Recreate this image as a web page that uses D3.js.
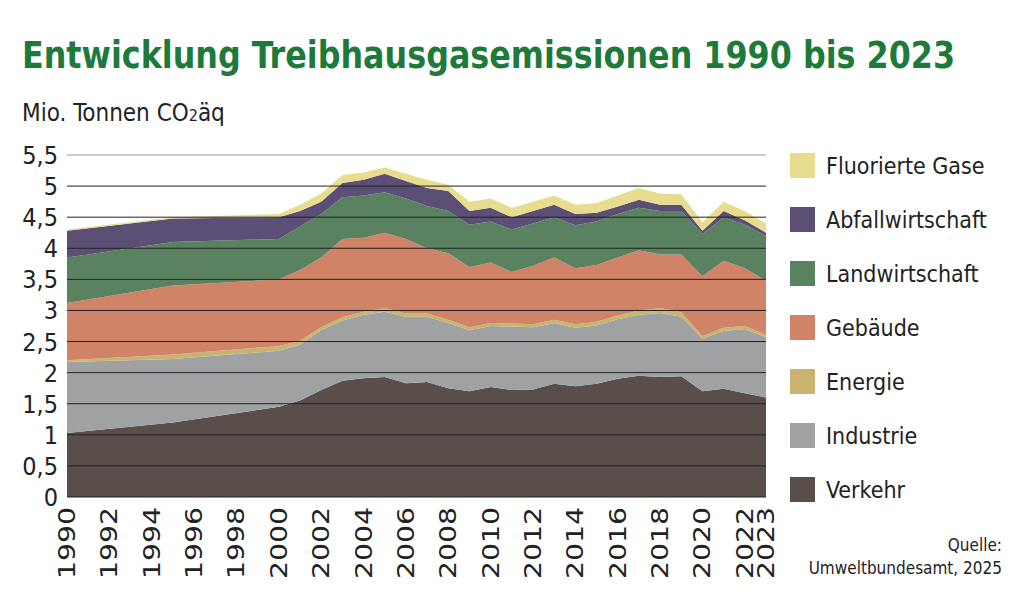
<!DOCTYPE html>
<html>
<head>
<meta charset="utf-8">
<script src="https://cdnjs.cloudflare.com/ajax/libs/d3/7.8.5/d3.min.js"></script>
<style>
  body { margin: 0; background: #fff; }
  text { font-family: "DejaVu Sans Condensed", "DejaVu Sans", sans-serif; }
</style>
</head>
<body>
<svg id="chart" width="1024" height="609"></svg>
<script>
// data (Mio. t CO2-Äq.)
var years = [1990,1995,2000,2001,2002,2003,2004,2005,2006,2007,2008,2009,2010,2011,2012,2013,2014,2015,2016,2017,2018,2019,2020,2021,2022,2023];
var verkehr = [1.03,1.2,1.45,1.55,1.72,1.87,1.91,1.93,1.83,1.85,1.75,1.7,1.77,1.72,1.73,1.82,1.78,1.82,1.9,1.95,1.93,1.94,1.7,1.74,1.67,1.6];
var industrie = [1.14,1.02,0.90,0.90,0.96,0.97,1.02,1.05,1.07,1.05,1.05,0.98,0.98,1.02,1.00,0.98,0.94,0.94,0.96,0.98,1.03,0.96,0.85,0.93,1.03,0.97];
var energie = [0.03,0.07,0.08,0.06,0.05,0.05,0.05,0.06,0.05,0.05,0.05,0.05,0.05,0.05,0.05,0.05,0.06,0.06,0.06,0.07,0.08,0.07,0.04,0.05,0.05,0.04];
var gebaeude = [0.92,1.11,1.07,1.14,1.12,1.26,1.19,1.21,1.20,1.05,1.07,0.97,0.97,0.83,0.94,1.00,0.90,0.91,0.93,0.97,0.86,0.93,0.96,1.08,0.93,0.87];
var landwirtschaft = [0.73,0.70,0.65,0.70,0.70,0.67,0.68,0.65,0.65,0.68,0.68,0.68,0.66,0.68,0.68,0.65,0.69,0.70,0.70,0.68,0.70,0.70,0.68,0.70,0.70,0.72];
var abfall = [0.43,0.38,0.35,0.25,0.20,0.23,0.25,0.30,0.28,0.29,0.32,0.22,0.22,0.20,0.20,0.20,0.18,0.14,0.12,0.13,0.10,0.10,0.05,0.10,0.07,0.05];
var fluor = [0.02,0.02,0.05,0.10,0.13,0.13,0.12,0.10,0.12,0.13,0.10,0.15,0.15,0.15,0.15,0.15,0.15,0.16,0.18,0.19,0.18,0.17,0.14,0.15,0.15,0.15];

var seriesNames = ["Verkehr","Industrie","Energie","Gebäude","Landwirtschaft","Abfallwirtschaft","Fluorierte Gase"];
var seriesValues = [verkehr, industrie, energie, gebaeude, landwirtschaft, abfall, fluor];
var colors = ["#5a4e4a","#a0a1a3","#c8b46e","#d08366","#5a8160","#5b4f76","#e8dd8f"];
var yTicks = [0,0.5,1,1.5,2,2.5,3,3.5,4,4.5,5,5.5];
var xTicks = [1990,1992,1994,1996,1998,2000,2002,2004,2006,2008,2010,2012,2014,2016,2018,2020,2022,2023];

var svg = d3.select("#chart");
var x = d3.scaleLinear().domain([1990, 2023]).range([67, 766]);
var y = d3.scaleLinear().domain([0, 5.5]).range([497, 155]);

var rows = years.map(function(yr, i) {
  var r = { year: yr };
  seriesNames.forEach(function(n, k) { r[n] = seriesValues[k][i]; });
  return r;
});
var stack = d3.stack().keys(seriesNames)(rows);

var area = d3.area()
  .x(function(d) { return x(d.data.year); })
  .y0(function(d) { return y(d[0]); })
  .y1(function(d) { return y(d[1]); });

svg.selectAll("path.layer").data(stack).enter().append("path")
  .attr("class", "layer")
  .attr("d", area)
  .attr("fill", function(d, i) { return colors[i]; });

// grid lines over the areas
svg.selectAll("line.grid").data(yTicks).enter().append("line")
  .attr("x1", 67).attr("x2", 766)
  .attr("y1", function(d) { return y(d); }).attr("y2", function(d) { return y(d); })
  .attr("stroke", function(d) { return d === 5.5 ? "#999" : "#222"; })
  .attr("stroke-width", 1);

// y labels
svg.selectAll("text.ytick").data(yTicks).enter().append("text")
  .attr("x", 58).attr("y", function(d) { return y(d) + 9; })
  .attr("text-anchor", "end").attr("font-size", 25).attr("fill", "#222")
  .text(function(d) { return String(d).replace(".", ","); });

// x labels
svg.selectAll("text.xtick").data(xTicks).enter().append("text")
  .attr("transform", function(d) { return "translate(" + (x(d) + 8) + ",507) rotate(-90)"; })
  .attr("text-anchor", "end").attr("font-size", 23).attr("fill", "#222")
  .attr("textLength", 72).attr("lengthAdjust", "spacingAndGlyphs")
  .text(function(d) { return d; });

// title
svg.append("text").attr("x", 22).attr("y", 68)
  .attr("font-size", 37).attr("font-weight", "bold").attr("fill", "#1e7a3a")
  .attr("textLength", 933).attr("lengthAdjust", "spacingAndGlyphs")
  .text("Entwicklung Treibhausgasemissionen 1990 bis 2023");

var unit = svg.append("text").attr("x", 22).attr("y", 121).attr("font-size", 24).attr("fill", "#222");
unit.append("tspan").text("Mio. Tonnen CO");
unit.append("tspan").attr("font-size", 16).text("2");
unit.append("tspan").text("äq");

// legend (top to bottom reversed)
var legendItems = seriesNames.map(function(n, i) { return { name: n, color: colors[i] }; }).reverse();
var lg = svg.selectAll("g.legend").data(legendItems).enter().append("g")
  .attr("transform", function(d, i) { return "translate(790," + (153 + i * 54) + ")"; });
lg.append("rect").attr("width", 25).attr("height", 25).attr("fill", function(d) { return d.color; });
lg.append("text").attr("x", 36).attr("y", 21).attr("font-size", 23).attr("fill", "#222")
  .text(function(d) { return d.name; });

// source
svg.append("text").attr("x", 1002).attr("y", 551).attr("text-anchor", "end")
  .attr("font-size", 17).attr("fill", "#222").text("Quelle:");
svg.append("text").attr("x", 1002).attr("y", 574).attr("text-anchor", "end")
  .attr("font-size", 17).attr("fill", "#222").text("Umweltbundesamt, 2025");
</script>
</body>
</html>
